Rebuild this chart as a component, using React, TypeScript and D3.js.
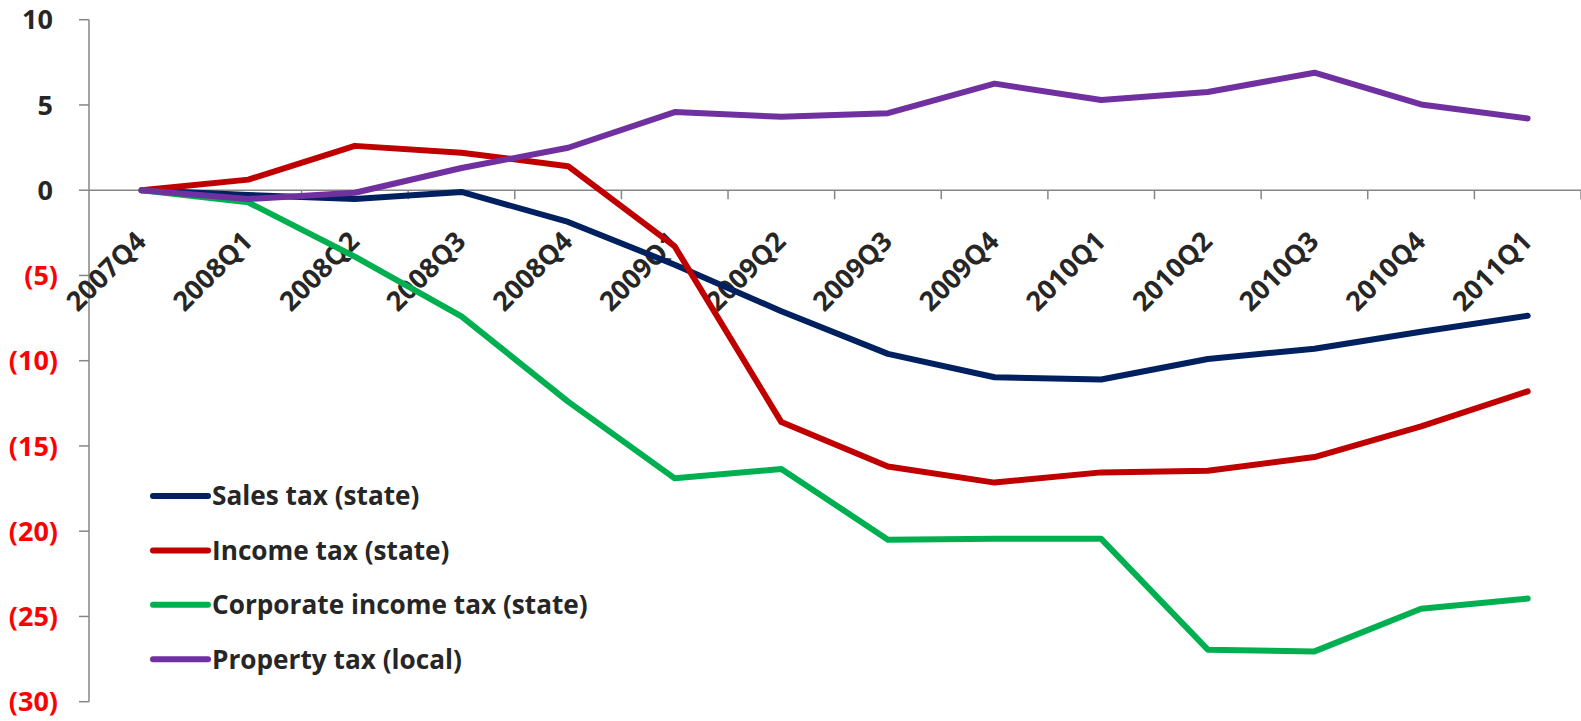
import React from "react";
import * as d3 from "d3";

const categories = ["2007Q4","2008Q1","2008Q2","2008Q3","2008Q4","2009Q1","2009Q2","2009Q3","2009Q4","2010Q1","2010Q2","2010Q3","2010Q4","2011Q1"];
const salesTax = [0, -0.28, -0.52, -0.1, -1.86, -4.37, -7.1, -9.6, -10.97, -11.1, -9.9, -9.3, -8.3, -7.36];
const incomeTax = [0, 0.62, 2.6, 2.2, 1.41, -3.3, -13.6, -16.2, -17.15, -16.55, -16.45, -15.65, -13.85, -11.8];
const corporateTax = [0, -0.71, -3.9, -7.4, -12.4, -16.9, -16.35, -20.5, -20.45, -20.45, -26.95, -27.05, -24.55, -23.95];
const propertyTax = [0, -0.52, -0.15, 1.3, 2.49, 4.58, 4.31, 4.52, 6.25, 5.29, 5.76, 6.89, 5.03, 4.21];
const yTicks = [10, 5, 0, -5, -10, -15, -20, -25, -30];

const seriesNames = ["Sales tax (state)", "Income tax (state)", "Corporate income tax (state)", "Property tax (local)"];
const seriesColors = ["#002060", "#C00000", "#00B050", "#7030A0"];
const seriesValues = [salesTax, incomeTax, corporateTax, propertyTax];

const W = 1581, H = 721;
const FONT = "'Open Sans', 'DejaVu Sans', sans-serif";

export default function App() {
  const x = d3.scalePoint<string>().domain(categories).range([88.3, 1581]).padding(0.5);
  const y = d3.scaleLinear().domain([-30, 10]).range([701.7, 19.7]);
  const step = x.step();
  const line = d3.line<number>().x((_, i) => x(categories[i]) as number).y(d => y(d));
  const boundaries = categories.map(c => (x(c) as number) + step / 2);
  const fmt = (v: number) => (v < 0 ? `(${Math.abs(v)})` : `${v}`);

  return (
    <svg width={W} height={H} style={{ position: "absolute", left: 0, top: 0, background: "#fff" }} fontFamily={FONT}>
      <line x1={89} x2={89} y1={y(10)} y2={y(-30)} stroke="#868686" strokeWidth={1.5} />
      {yTicks.map(t => (
        <g key={t}>
          <line x1={79} x2={89} y1={y(t)} y2={y(t)} stroke="#868686" strokeWidth={1.5} />
          <text x={t < 0 ? 58 : 53} y={y(t)} dy="0.36em" textAnchor="end" fontSize={27} fontWeight={700}
            fill={t < 0 ? "#FF0000" : "#262626"}>{fmt(t)}</text>
        </g>
      ))}
      <line x1={89} x2={W} y1={y(0)} y2={y(0)} stroke="#868686" strokeWidth={1.5} />
      {boundaries.map((b, i) => (
        <line key={i} x1={b} x2={b} y1={y(0)} y2={y(0) + 9} stroke="#868686" strokeWidth={1.5} />
      ))}
      {categories.map(c => {
        const cx = (x(c) as number) + 6;
        const cy = 243;
        return (
          <text key={c} x={cx} y={cy} textAnchor="end" fontSize={27} fontWeight={700} fill="#262626"
            transform={`rotate(-45 ${cx} ${cy})`}>{c}</text>
        );
      })}
      {seriesValues.map((vals, i) => (
        <path key={i} d={line(vals) as string} fill="none" stroke={seriesColors[i]} strokeWidth={6}
          strokeLinejoin="round" strokeLinecap="round" />
      ))}
      {seriesNames.map((n, i) => {
        const ly = 496 + i * 54.4;
        return (
          <g key={n}>
            <line x1={153} x2={208} y1={ly} y2={ly} stroke={seriesColors[i]} strokeWidth={6} strokeLinecap="round" />
            <text x={212} y={ly} dy="0.36em" fontSize={26.2} fontWeight={700} fill="#262626">{n}</text>
          </g>
        );
      })}
    </svg>
  );
}
